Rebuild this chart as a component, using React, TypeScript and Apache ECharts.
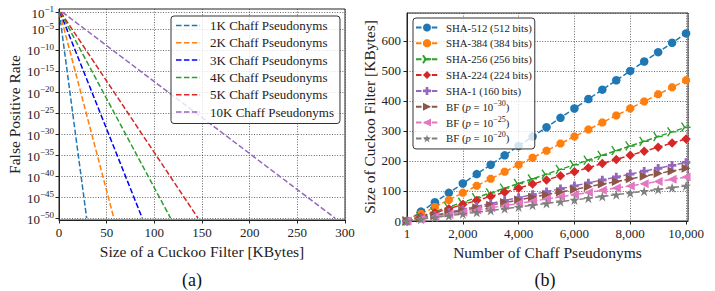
import React, { useEffect, useRef } from 'react';
import * as echarts from 'echarts';

// ---------- Panel (a): false positive rate (log10 exponent) vs filter size [KB]
const fprNames = [
  '1K Chaff Pseudonyms',
  '2K Chaff Pseudonyms',
  '3K Chaff Pseudonyms',
  '4K Chaff Pseudonyms',
  '5K Chaff Pseudonyms',
  '10K Chaff Pseudonyms',
];
const fprColors = ['#1f77b4', '#ff7f0e', '#0000ff', '#2ca02c', '#d62728', '#9467bd'];
// [size KB, log10(FPR)]
const fp1K = [[0.3, -1], [29.0, -50]];
const fp2K = [[0.7, -1], [57.5, -50]];
const fp3K = [[1.0, -1], [87.3, -50]];
const fp4K = [[1.4, -1], [117.0, -50]];
const fp5K = [[1.8, -1], [145.8, -50]];
const fp10K = [[3.5, -1], [289.6, -50]];
const fprData = [fp1K, fp2K, fp3K, fp4K, fp5K, fp10K];
const yTickExps = [-1, -5, -10, -15, -20, -25, -30, -35, -40, -45, -50];

// ---------- Panel (b): filter size [KB] vs number of chaff pseudonyms
const chaffCounts = [1, 500, 1000, 1500, 2000, 2500, 3000, 3500, 4000, 4500, 5000, 5500, 6000, 6500, 7000, 7500, 8000, 8500, 9000, 9500, 10000];
const sha512KB = [0.06, 31.3, 62.5, 93.8, 125, 156.3, 187.5, 218.8, 250, 281.3, 312.5, 343.8, 375, 406.3, 437.5, 468.8, 500, 531.3, 562.5, 593.8, 625];
const sha384KB = [0.05, 23.4, 46.9, 70.3, 93.8, 117.2, 140.6, 164.1, 187.5, 210.9, 234.4, 257.8, 281.3, 304.7, 328.1, 351.6, 375, 398.4, 421.9, 445.3, 468.8];
const sha256KB = [0.03, 15.6, 31.3, 46.9, 62.5, 78.1, 93.8, 109.4, 125, 140.6, 156.3, 171.9, 187.5, 203.1, 218.8, 234.4, 250, 265.6, 281.3, 296.9, 312.5];
const sha224KB = [0.03, 13.7, 27.3, 41.0, 54.7, 68.4, 82.0, 95.7, 109.4, 123.0, 136.7, 150.4, 164.1, 177.7, 191.4, 205.1, 218.8, 232.4, 246.1, 259.8, 273.4];
const sha1KB = [0.02, 9.8, 19.5, 29.3, 39.1, 48.8, 58.6, 68.4, 78.1, 87.9, 97.7, 107.4, 117.2, 127.0, 136.7, 146.5, 156.3, 166.0, 175.8, 185.5, 195.3];
const bf30KB = [0.02, 8.8, 17.5, 26.3, 35.1, 43.9, 52.7, 61.4, 70.2, 79.0, 87.8, 96.5, 105.3, 114.1, 122.9, 131.6, 140.4, 149.2, 158.0, 166.8, 175.5];
const bf25KB = [0.01, 7.3, 14.6, 21.9, 29.2, 36.6, 43.9, 51.2, 58.5, 65.8, 73.1, 80.4, 87.7, 95.0, 102.3, 109.7, 117.0, 124.3, 131.6, 138.9, 146.2];
const bf20KB = [0.01, 5.8, 11.7, 17.5, 23.4, 29.2, 35.1, 40.9, 46.8, 52.6, 58.5, 64.3, 70.2, 76.0, 81.9, 87.7, 93.6, 99.4, 105.3, 111.1, 117.0];
const sizeNames = [
  'SHA-512 (512 bits)',
  'SHA-384 (384 bits)',
  'SHA-256 (256 bits)',
  'SHA-224 (224 bits)',
  'SHA-1 (160 bits)',
  'BF (p = 10^-30)',
  'BF (p = 10^-25)',
  'BF (p = 10^-20)',
];
const sizeValues = [sha512KB, sha384KB, sha256KB, sha224KB, sha1KB, bf30KB, bf25KB, bf20KB];
const sizeColors = ['#1f77b4', '#ff7f0e', '#2ca02c', '#d62728', '#9467bd', '#8c564b', '#e377c2', '#7f7f7f'];

const SERIF = '"Liberation Serif", "DejaVu Serif", serif';
const TXT = '#222';

const OCTAGON = 'path://M-0.414,-1L0.414,-1L1,-0.414L1,0.414L0.414,1L-0.414,1L-1,0.414L-1,-0.414Z';
const TRI_RIGHT = 'path://M0,0L1,0M0,0L-0.5,0.866M0,0L-0.5,-0.866';
const PLUS_FILLED = 'path://M-1,-3L1,-3L1,-1L3,-1L3,1L1,1L1,3L-1,3L-1,1L-3,1L-3,-1L-1,-1Z';
const STAR = 'path://M0,-1L0.2245,-0.309L0.951,-0.309L0.3633,0.118L0.5878,0.809L0,0.382L-0.5878,0.809L-0.3633,0.118L-0.951,-0.309L-0.2245,-0.309Z';
const DASHED_ICON = 'path://M0,0H5.5V1.5H0Z M7.9,0H13.4V1.5H7.9Z M15.8,0H21.3V1.5H15.8Z M23.7,0H24V1.5H23.7Z';

const markerCfg = [
  { symbol: 'circle', size: 8.5, rotate: 0 },
  { symbol: OCTAGON, size: 8, rotate: 0 },
  { symbol: TRI_RIGHT, size: 9, rotate: 0, stroke: true },
  { symbol: 'diamond', size: 9.5, rotate: 0 },
  { symbol: PLUS_FILLED, size: 8.5, rotate: 0 },
  { symbol: 'triangle', size: 9, rotate: -90 },
  { symbol: 'triangle', size: 9, rotate: 90 },
  { symbol: STAR, size: 10, rotate: 0 },
];

const DASH = [5.5, 2.4];
const gridLine = { show: true, lineStyle: { color: '#444', width: 0.8, type: [1, 1.6] } };

function supLabel(v: number) {
  return '{b|10}{s|' + (v < 0 ? '\u2212' + Math.abs(v) : String(v)) + '}';
}

export default function App() {
  const ref = useRef<HTMLDivElement>(null);
  useEffect(() => {
    if (!ref.current) return;
    const chart = echarts.init(ref.current, undefined, { renderer: 'svg' });

    const leftSeries = fprData.map((d, i) => ({
      type: 'line',
      name: fprNames[i],
      xAxisIndex: 0,
      yAxisIndex: 0,
      data: d,
      symbol: 'none',
      showSymbol: false,
      silent: true,
      lineStyle: { color: fprColors[i], width: 1.5, type: DASH },
      itemStyle: { color: fprColors[i] },
    }));

    const rightSeries = sizeValues.map((vals, i) => {
      const m = markerCfg[i];
      return {
        type: 'line',
        name: sizeNames[i],
        xAxisIndex: 1,
        yAxisIndex: 1,
        data: chaffCounts.map((c, j) => [c, vals[j]]),
        symbol: m.symbol,
        symbolSize: m.size,
        symbolRotate: m.rotate,
        showSymbol: true,
        silent: true,
        lineStyle: { color: sizeColors[i], width: 1.5, type: DASH },
        itemStyle: m.stroke
          ? { color: 'rgba(0,0,0,0)', borderColor: sizeColors[i], borderWidth: 1.4 }
          : { color: sizeColors[i] },
      };
    });

    const legendBase = {
      orient: 'vertical',
      backgroundColor: 'rgba(255,255,255,0.8)',
      borderColor: '#333',
      borderWidth: 1,
      borderRadius: 3,
      selectedMode: false,
    };

    const nameStyle = { fontSize: 15.5, color: TXT, fontFamily: SERIF };

    chart.setOption({
      animation: false,
      backgroundColor: '#fff',
      textStyle: { fontFamily: SERIF },
      grid: [
        { left: 59, top: 9, width: 286, height: 211, show: true, borderColor: '#222', borderWidth: 1 },
        { left: 407, top: 13, width: 281, height: 208, show: true, borderColor: '#222', borderWidth: 1 },
      ],
      xAxis: [
        {
          gridIndex: 0,
          type: 'value',
          min: 0,
          max: 300,
          interval: 50,
          axisLine: { show: true, onZero: false, lineStyle: { color: '#222', width: 1 } },
          axisTick: { show: true, length: 3.5, lineStyle: { color: '#222' } },
          axisLabel: { fontSize: 13, margin: 6, color: TXT, fontFamily: SERIF },
          splitLine: gridLine,
          name: 'Size of a Cuckoo Filter [KBytes]',
          nameLocation: 'middle',
          nameGap: 22,
          nameTextStyle: nameStyle,
        },
        {
          gridIndex: 1,
          type: 'value',
          min: 0,
          max: 10070,
          interval: 2000,
          axisLine: { show: true, onZero: false, lineStyle: { color: '#222', width: 1 } },
          axisTick: { show: true, length: 3.5, lineStyle: { color: '#222' } },
          axisLabel: {
            fontSize: 13,
            margin: 6,
            color: TXT,
            fontFamily: SERIF,
            showMaxLabel: false,
            formatter: (v: number) => (v === 0 ? '1' : v.toLocaleString('en-US')),
          },
          splitLine: gridLine,
          name: 'Number of Chaff Pseudonyms',
          nameLocation: 'middle',
          nameGap: 18,
          nameTextStyle: nameStyle,
        },
      ],
      yAxis: [
        {
          gridIndex: 0,
          type: 'value',
          min: -50.45,
          max: -0.25,
          axisLine: { show: true, onZero: false, lineStyle: { color: '#222', width: 1 } },
          axisTick: { show: true, length: 3.5, customValues: yTickExps, lineStyle: { color: '#222' } },
          axisLabel: {
            customValues: yTickExps,
            showMinLabel: true,
            showMaxLabel: true,
            hideOverlap: false,
            margin: 5,
            color: TXT,
            formatter: (v: number) => supLabel(v),
            rich: {
              b: { fontSize: 13, fontFamily: SERIF, color: TXT, lineHeight: 15, verticalAlign: 'bottom' },
              s: { fontSize: 9, fontFamily: SERIF, color: TXT, lineHeight: 6, verticalAlign: 'top' },
            },
          },
          splitLine: gridLine,
          name: 'False Positive Rate',
          nameLocation: 'middle',
          nameGap: 37,
          nameTextStyle: nameStyle,
        },
        {
          gridIndex: 1,
          type: 'value',
          min: 0,
          max: 693,
          interval: 100,
          axisLine: { show: true, onZero: false, lineStyle: { color: '#222', width: 1 } },
          axisTick: { show: true, length: 3.5, lineStyle: { color: '#222' } },
          axisLabel: { fontSize: 13, margin: 6, color: TXT, fontFamily: SERIF, showMaxLabel: false },
          splitLine: gridLine,
          name: 'Size of Cuckoo Filter [KBytes]',
          nameLocation: 'middle',
          nameGap: 28,
          nameTextStyle: nameStyle,
        },
      ],
      legend: [
        {
          ...legendBase,
          data: fprNames.map((n) => ({ name: n, icon: DASHED_ICON })),
          left: 171,
          top: 16,
          padding: [2, 6, 4, 5],
          itemWidth: 24,
          itemHeight: 10,
          itemGap: 2.3,
          textStyle: { fontSize: 13, color: TXT, fontFamily: SERIF, lineHeight: 15, padding: [0, 0, 0, 5] },
        },
        {
          ...legendBase,
          data: sizeNames,
          left: 413,
          top: 18,
          padding: [2, 3, 3, 2],
          itemWidth: 22,
          itemHeight: 10,
          itemGap: 0.85,
          textStyle: {
            fontSize: 10.8,
            color: TXT,
            fontFamily: SERIF,
            lineHeight: 15,
            padding: [0, 0, 0, 3],
            rich: {
              i: { fontSize: 10.8, fontStyle: 'italic', fontFamily: SERIF, color: TXT, lineHeight: 15 },
              s: { fontSize: 8, fontFamily: SERIF, color: TXT, lineHeight: 8, verticalAlign: 'top' },
            },
          },
          formatter: (name: string) => {
            const m = name.match(/^BF \(p = 10\^(-\d+)\)$/);
            if (m) return 'BF ({i|p} = 10{s|' + m[1].replace('-', '\u2212') + '})';
            return name;
          },
        },
      ],
      graphic: [
        {
          type: 'text',
          x: 192,
          y: 280,
          style: { text: '(a)', fontSize: 18, fontFamily: SERIF, fill: '#111', textAlign: 'center', textVerticalAlign: 'middle' },
        },
        {
          type: 'text',
          x: 545,
          y: 280,
          style: { text: '(b)', fontSize: 18, fontFamily: SERIF, fill: '#111', textAlign: 'center', textVerticalAlign: 'middle' },
        },
      ],
      series: [...leftSeries, ...rightSeries],
    });

    return () => chart.dispose();
  }, []);

  return (
    <div
      ref={ref}
      style={{ position: 'fixed', left: 0, top: 0, width: 715, height: 291, background: '#fff' }}
    />
  );
}
